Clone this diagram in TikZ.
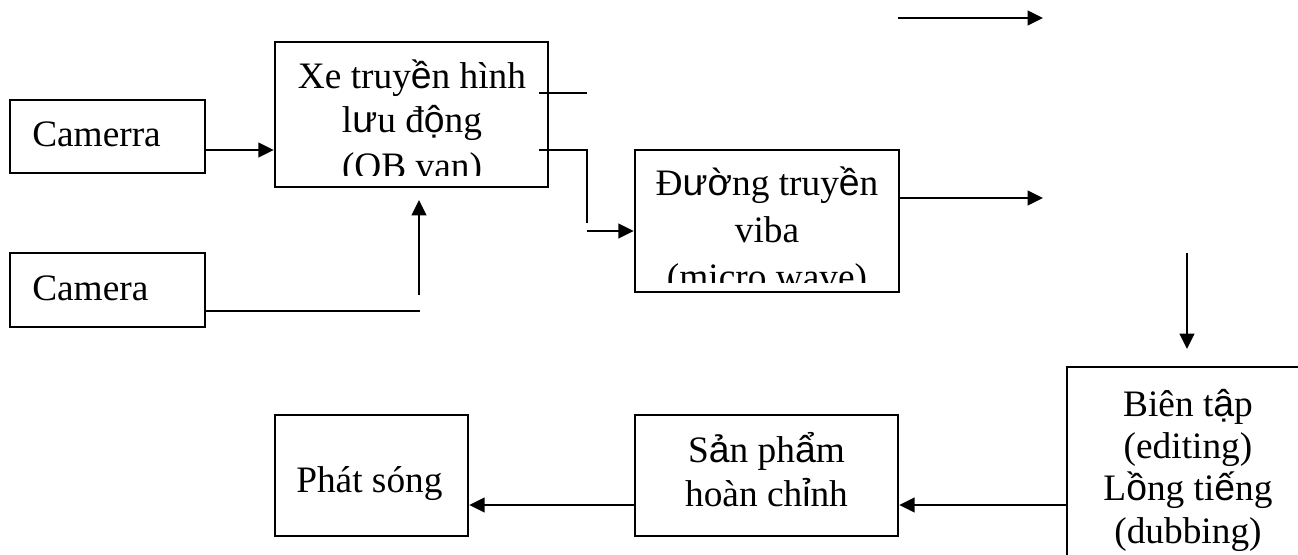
\documentclass[tikz,border=0pt]{standalone}
\usepackage{fontspec}
\setmainfont{Liberation Serif}
\newfontfamily\arfont{Liberation Sans}
\usetikzlibrary{arrows.meta}
\newcommand{\A}[1]{{\arfont #1}}
\begin{document}
\begin{tikzpicture}[x=0.75pt,y=-0.75pt,
  every node/.style={font=\fontsize{28}{33}\selectfont},
  box/.style={draw, line width=1.9pt, inner sep=0pt},
  txt/.style={inner sep=0pt, anchor=base},
  txtw/.style={inner sep=0pt, anchor=base west},
  ln/.style={line width=1.4pt},
  arr/.style={line width=1.4pt, -{Triangle[length=11.5pt,width=11pt]}}]
\useasboundingbox (0,0) rectangle (1298,554);
% boxes
\node[box, minimum width=146.25pt, minimum height=54.75pt] (cam1) at (107.5,136.5) {};
\node[box, minimum width=146.25pt, minimum height=55.5pt] (cam2) at (107.5,290) {};
\node[box, minimum width=204.75pt, minimum height=108.75pt] (ob) at (411.5,114.5) {};
\node[box, minimum width=198pt, minimum height=106.5pt] (mw) at (767,221) {};
\node[box, minimum width=182.25pt, minimum height=174.75pt] (bt) at (1188.5,483.5) {};
\node[box, minimum width=197.25pt, minimum height=90.75pt] (sp) at (766.5,475.5) {};
\node[box, minimum width=144.75pt, minimum height=90.75pt] (ps) at (371.5,475.5) {};
% texts
\node[txtw] (t1) at (32,146) {Camerra};
\node[txtw] (t2) at (32,300) {Camera};
\begin{scope}
\clip (277,44) rectangle (546,175);
\node[txt] (t3) at (412,88) {Xe truy\A{ề}n hình};
\node[txt] (t4) at (412,132) {l\A{ư}u đ\A{ộ}ng};
\node[txt] (t5) at (412,178) {(OB van)};
\end{scope}
\begin{scope}
\clip (637,152) rectangle (897,282);
\node[txt] (t6) at (767,195) {Đ\A{ườ}ng truy\A{ề}n};
\node[txt] (t7) at (767,242) {viba};
\node[txt] (t8) at (767,289) {(micro wave)};
\end{scope}
\node[txt] (t9) at (1188,416) {Biên t\A{ậ}p};
\node[txt] (t10) at (1188,458) {(editing)};
\node[txt] (t11) at (1188,500) {L\A{ồ}ng ti\A{ế}ng};
\node[txt] (t12) at (1188,543) {(dubbing)};
\node[txt] (t13) at (766.5,462) {S\A{ả}n ph\A{ẩ}m};
\node[txt] (t14) at (766.5,506) {hoàn ch\A{ỉ}nh};
\node[txtw] (t15) at (296,492) {Phát sóng};
% helper coordinates
\coordinate (y150) at (0,150);
\coordinate (y231) at (0,231);
\coordinate (y311) at (0,311);
\coordinate (y505) at (0,505);
\coordinate (y198) at (0,198);
\coordinate (c2end) at (420,311);
\coordinate (v1a) at (419,295);
\coordinate (v1b) at (419,200);
\coordinate (o1a) at (539,93);
\coordinate (o1b) at (587,93);
\coordinate (o2a) at (539,150);
\coordinate (o2b) at (587,150);
\coordinate (o2c) at (587,223);
\coordinate (o3a) at (587,231);
\coordinate (m1) at (1043,198);
\coordinate (ta) at (898,18);
\coordinate (tb) at (1043,18);
\coordinate (va) at (1187,253);
\coordinate (vb) at (1187,349);
% connectors
\draw[arr] (cam1.east |- y150) -- (ob.west |- y150);
\draw[ln] (cam2.east |- y311) -- (c2end);
\draw[arr] (v1a) -- (v1b);
\draw[ln] (o1a) -- (o1b);
\draw[ln] (o2a) -- (o2b) -- (o2c);
\draw[arr] (o3a) -- (mw.west |- y231);
\draw[arr] (mw.east |- y198) -- (m1);
\draw[arr] (ta) -- (tb);
\draw[arr] (va) -- (vb);
\draw[arr] (bt.west |- y505) -- (sp.east |- y505);
\draw[arr] (sp.west |- y505) -- (ps.east |- y505);
\end{tikzpicture}
\end{document}
